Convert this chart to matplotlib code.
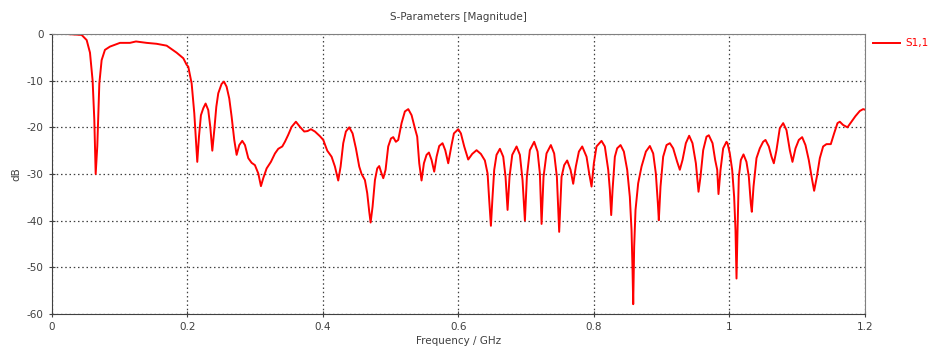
import matplotlib
matplotlib.use("Agg")
import matplotlib.pyplot as plt

# S1,1 magnitude (GHz, dB)
freq = [0.0, 0.0217, 0.0438, 0.0512, 0.0561, 0.0600, 0.0625, 0.0645, 0.0669,
        0.0699, 0.0733, 0.0782, 0.0856, 0.1004, 0.1151, 0.1240, 0.1397, 0.1545,
        0.1693, 0.1840, 0.1939, 0.1988, 0.2012, 0.2062, 0.2101, 0.2125, 0.2145,
        0.2170, 0.2199, 0.2234, 0.2268, 0.2307, 0.2337, 0.2367, 0.2396, 0.2426,
        0.2455, 0.2504, 0.2539, 0.2578, 0.2617, 0.2652, 0.2691, 0.2726, 0.2765,
        0.2809, 0.2849, 0.2898, 0.2947, 0.2996, 0.3046, 0.3085, 0.3119, 0.3169,
        0.3232, 0.3292, 0.3341, 0.3400, 0.3439, 0.3488, 0.3538, 0.3601, 0.3661,
        0.3724, 0.3774, 0.3823, 0.3882, 0.3956, 0.4005, 0.4064, 0.4128, 0.4177,
        0.4226, 0.4261, 0.4300, 0.4339, 0.4389, 0.4438, 0.4487, 0.4536, 0.4571,
        0.4620, 0.4654, 0.4684, 0.4704, 0.4733, 0.4768, 0.4802, 0.4831, 0.4866,
        0.4891, 0.4925, 0.4964, 0.5004, 0.5038, 0.5077, 0.5112, 0.5161, 0.5210,
        0.5260, 0.5309, 0.5358, 0.5392, 0.5422, 0.5456, 0.5491, 0.5530, 0.5565,
        0.5604, 0.5643, 0.5678, 0.5717, 0.5766, 0.5806, 0.5850, 0.5899, 0.5934,
        0.5998, 0.6037, 0.6086, 0.6145, 0.6204, 0.6268, 0.6332, 0.6391, 0.6431,
        0.6455, 0.6480, 0.6504, 0.6529, 0.6563, 0.6613, 0.6662, 0.6696, 0.6726,
        0.6755, 0.6795, 0.6859, 0.6908, 0.6947, 0.6982, 0.7011, 0.7055, 0.7119,
        0.7169, 0.7203, 0.7228, 0.7257, 0.7301, 0.7365, 0.7414, 0.7454, 0.7488,
        0.7523, 0.7562, 0.7606, 0.7656, 0.7695, 0.7734, 0.7779, 0.7828, 0.7892,
        0.7931, 0.7966, 0.8000, 0.8039, 0.8113, 0.8162, 0.8212, 0.8236, 0.8256,
        0.8276, 0.8310, 0.8344, 0.8394, 0.8443, 0.8492, 0.8531, 0.8556, 0.8571,
        0.8581, 0.8595, 0.8615, 0.8654, 0.8704, 0.8768, 0.8827, 0.8876, 0.8915,
        0.8945, 0.8959, 0.8984, 0.9023, 0.9073, 0.9122, 0.9171, 0.9230, 0.9269,
        0.9309, 0.9358, 0.9407, 0.9456, 0.9506, 0.9545, 0.9574, 0.9614, 0.9663,
        0.9697, 0.9752, 0.9791, 0.9821, 0.9840, 0.9870, 0.9909, 0.9958, 0.9973,
        1.0007, 1.0042, 1.0071, 1.0091, 1.0106, 1.0121, 1.0140, 1.0170, 1.0209,
        1.0253, 1.0288, 1.0317, 1.0332, 1.0357, 1.0401, 1.0450, 1.0499, 1.0534,
        1.0583, 1.0623, 1.0657, 1.0696, 1.0745, 1.0795, 1.0844, 1.0893, 1.0932,
        1.0977, 1.1026, 1.1075, 1.1124, 1.1173, 1.1223, 1.1252, 1.1292, 1.1336,
        1.1385, 1.1434, 1.1498, 1.1547, 1.1597, 1.1631, 1.1680, 1.1744, 1.1803,
        1.1862, 1.1926, 1.1975, 1.2000]
s11 = [0.0, 0.0, -0.2, -1.3, -4.0, -10.0, -18.4, -30.0, -24.0,
       -10.6, -5.6, -3.4, -2.7, -1.9, -1.9, -1.6, -1.9, -2.1,
       -2.5, -4.0, -5.2, -6.6, -7.0, -10.6, -17.0, -22.7, -27.4,
       -22.0, -17.4, -15.9, -14.9, -16.3, -19.9, -25.0, -20.6, -15.6,
       -12.7, -10.7, -10.2, -11.3, -13.8, -17.7, -22.7, -25.9, -23.8,
       -22.9, -23.8, -26.6, -27.6, -28.1, -29.9, -32.6, -30.9, -28.8,
       -27.4, -25.6, -24.6, -24.1, -23.1, -21.6, -19.9, -18.8, -19.9,
       -20.9, -20.8, -20.4, -20.9, -21.9, -22.7, -25.0, -26.3, -28.4,
       -31.4, -28.4, -23.4, -20.9, -20.0, -21.3, -24.5, -28.4, -30.0,
       -31.3, -34.1, -38.1, -40.4, -37.0, -31.3, -28.8, -28.3, -29.9,
       -30.9, -29.1, -24.1, -22.4, -22.1, -23.1, -22.7, -19.1, -16.6,
       -16.1, -17.4, -20.2, -22.0, -27.7, -31.4, -27.7, -25.9, -25.4,
       -27.0, -29.5, -26.3, -24.0, -23.4, -24.9, -27.7, -23.8, -21.3,
       -20.4, -21.3, -24.1, -26.9, -25.7, -24.9, -25.7, -27.1, -29.9,
       -35.6, -41.1, -34.9, -29.1, -25.9, -24.6, -26.3, -30.6, -37.7,
       -30.6, -25.9, -24.1, -25.9, -31.3, -40.0, -30.6, -24.9, -23.1,
       -25.2, -29.9, -40.7, -30.6, -25.6, -23.8, -25.6, -30.6, -42.4,
       -30.6, -28.1, -27.1, -29.1, -32.1, -28.4, -25.2, -24.1, -26.3,
       -29.9, -32.7, -27.7, -24.1, -22.9, -24.1, -29.1, -33.4, -38.8,
       -33.4, -26.3, -24.5, -23.8, -25.2, -29.1, -34.9, -42.0, -50.6,
       -57.9, -45.6, -37.7, -32.0, -28.4, -25.2, -24.0, -25.6, -29.9,
       -36.3, -39.9, -32.7, -26.3, -23.8, -23.4, -24.5, -27.4, -29.1,
       -27.0, -23.4, -21.8, -23.4, -27.7, -33.8, -30.6, -24.9, -22.0,
       -21.7, -23.4, -27.0, -29.1, -34.3, -29.1, -24.5, -23.1, -23.4,
       -25.6, -29.1, -34.9, -42.0, -52.4, -42.0, -30.6, -27.0, -25.8,
       -27.4, -30.6, -36.3, -38.1, -32.7, -26.6, -24.5, -23.1, -22.7,
       -24.1, -26.3, -27.7, -24.9, -20.2, -19.1, -20.6, -24.9, -27.4,
       -24.5, -22.7, -22.1, -23.8, -27.0, -31.3, -33.6, -30.6, -26.6,
       -24.1, -23.6, -23.6, -21.3, -19.1, -18.8, -19.5, -20.0, -18.8,
       -17.6, -16.5, -16.1, -16.2]

xticks = [0, 0.2, 0.4, 0.6, 0.8, 1.0, 1.2]
xticklabels = ["0", "0.2", "0.4", "0.6", "0.8", "1", "1.2"]
yticks = [0, -10, -20, -30, -40, -50, -60]

txt = "#404040"
plt.rcParams['font.family'] = ['DejaVu Sans']

fig = plt.figure(figsize=(9.4, 3.56), dpi=100)
ax = fig.add_axes([0.0553, 0.118, 0.8647, 0.7865])

ax.plot(freq, s11, color='#ff0000', linewidth=1.4, label='S1,1')

ax.set_xlim(0, 1.2)
ax.set_ylim(-60, 0)
ax.set_xticks(xticks)
ax.set_xticklabels(xticklabels)
ax.set_yticks(yticks)
ax.set_yticklabels([str(v) for v in yticks])
ax.tick_params(direction='inout', length=5, width=0.8, colors=txt,
               labelsize=7.5, labelcolor=txt)

ax.grid(True, color='#404040', linestyle=(0, (1.2, 2.2)), linewidth=0.9)
for side in ['left', 'bottom']:
    ax.spines[side].set_color('#404040')
for side in ['top', 'right']:
    ax.spines[side].set_color('#808080')

ax.set_title('S-Parameters [Magnitude]', fontsize=7.5, color=txt, pad=10)
ax.set_xlabel('Frequency / GHz', fontsize=7.5, color=txt, labelpad=3)
ax.set_ylabel('dB', fontsize=7.5, color=txt, labelpad=4)

ax.legend(loc='upper left', bbox_to_anchor=(1.005, 1.0), frameon=False,
          fontsize=7.5, labelcolor='#ff0000', handlelength=2.6,
          handletextpad=0.5, borderaxespad=0.0)

fig.savefig('out.png', dpi=100)
